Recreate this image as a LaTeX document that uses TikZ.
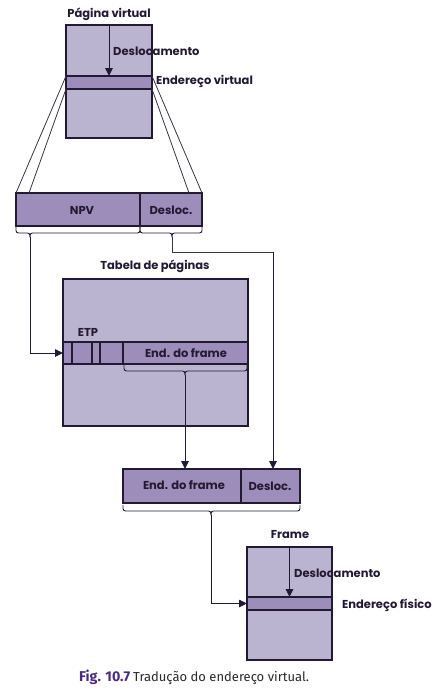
\documentclass[tikz,border=0pt]{standalone}
\usepackage{fontspec}
\setmainfont{Poppins}
\newfontfamily\capfont{Fira Sans}
\usetikzlibrary{arrows.meta}
\definecolor{boxfill}{HTML}{BBB4D1}
\definecolor{bandfill}{HTML}{9C8DBB}
\definecolor{edge}{HTML}{221A33}
\definecolor{thinline}{HTML}{3A3345}
\definecolor{capviolet}{HTML}{4A2B80}
\definecolor{captext}{HTML}{2A2A2A}
\tikzset{
  fillbox/.style={draw=edge, line width=1.6pt, fill=boxfill, anchor=north west, inner sep=0pt, outer sep=0pt},
  bandbox/.style={draw=edge, line width=1.6pt, fill=bandfill, anchor=north west, inner sep=0pt, outer sep=0pt},
  lbl/.style={font=\fontsize{11.5}{13}\selectfont\bfseries, text=edge, inner sep=0pt},
  arr/.style={draw=edge, line width=0.9pt, -{Triangle[length=8pt,width=7.5pt]}},
  conn/.style={draw=thinline, line width=0.8pt},
  brk/.style={draw=edge, line width=0.9pt, rounded corners=2.5pt},
}
\newcommand{\mybracket}[4]{% x1, x2, xt, y
  \draw[brk] (#1,#4) -- (#1,#4+6) -- (#3,#4+6) -- (#3,#4+10);
  \draw[brk] (#2,#4) -- (#2,#4+6) -- (#3,#4+6) -- (#3,#4+10);
}
\begin{document}
\begin{tikzpicture}[x=1pt,y=-1pt]
\useasboundingbox[fill=white] (0,0) rectangle (447,694);

% ---------- virtual page ----------
\node[fillbox, minimum width=86pt, minimum height=113pt] (vp) at (66,25) {};
\node[bandbox, minimum width=86pt, minimum height=13pt] (vband) at (66,76) {};
\draw[arr] (vp.north) -- (vband.north);
\node[lbl] (vptitle) at (109,14) {Página virtual};
\node[lbl, anchor=west] (vpdesl) at (113,51) {Deslocamento};
\node[lbl, anchor=west] (vpend) at (156,81) {Endereço virtual};

% ---------- virtual address ----------
\node[bandbox, minimum width=124pt, minimum height=33pt] (npv) at (16,193) {};
\node[bandbox, minimum width=62pt, minimum height=33pt] (vdesl) at (140,193) {};
\node[lbl] (npvtxt) at (82,210) {NPV};
\node[lbl] (vdesltxt) at (171,210) {Desloc.};

% funnel lines
\draw[conn] (vband.north west) -- (npv.north west);
\draw[conn] (vband.south west) -- ([xshift=13pt]npv.north west);
\draw[conn] (vband.north east) -- (vdesl.north east);
\draw[conn] (vband.south east) -- ([xshift=-13pt]vdesl.north east);

% brackets
\mybracket{16}{140}{30}{227}
\mybracket{140}{202}{172}{227}
\coordinate (t1) at (30,237);
\coordinate (t2) at (172,237);

% ---------- page table ----------
\node[lbl] (tabtitle) at (155,266) {Tabela de páginas};
\node[fillbox, minimum width=185pt, minimum height=147pt] (tab) at (63,279) {};
\node[bandbox, minimum width=185pt, minimum height=22pt] (etprow) at (63,342) {};
\foreach \xx in {72,92,100,123}{
  \draw[draw=edge, line width=1.3pt] (\xx,342) -- (\xx,364);
}
\node[lbl] (etp) at (88,332) {ETP};
\node[lbl] (tabframe) at (186,353) {End. do frame};
\mybracket{124}{247}{185}{365}
\coordinate (t3) at (185,375);

% ---------- physical address ----------
\node[bandbox, minimum width=118pt, minimum height=34pt] (pframe) at (123,469) {};
\node[bandbox, minimum width=59pt, minimum height=34pt] (pdesl) at (241,469) {};
\node[lbl] (pframetxt) at (184,485) {End. do frame};
\node[lbl] (pdesltxt) at (270,486) {Desloc.};
\mybracket{123}{300}{211}{505}
\coordinate (t4) at (211,515);

% ---------- frame ----------
\node[fillbox, minimum width=85pt, minimum height=113pt] (fr) at (247,547) {};
\node[bandbox, minimum width=85pt, minimum height=13pt] (fband) at (247,597) {};
\draw[arr] (fr.north) -- (fband.north);
\node[lbl] (frtitle) at (290,535) {Frame};
\node[lbl, anchor=west] (frdesl) at (294,573) {Deslocamento};
\node[lbl, anchor=west] (frend) at (342,605) {Endereço físico};

% ---------- connectors ----------
\draw[arr] (t1) |- (etprow.west);
\coordinate (r1) at (273,252);
\draw[conn] (t2) |- (r1);
\draw[arr] (r1) -- (r1 |- pdesl.north);
\draw[arr] (t3) -- (t3 |- pframe.north);
\draw[arr] (t4) |- (fband.west);

% ---------- caption ----------
\node[inner sep=0pt, font=\capfont\fontsize{13}{15}\selectfont, anchor=base west] (cap) at (79,681)
  {\textcolor{capviolet}{\fontsize{14.2}{15}\selectfont\bfseries Fig. 10.7}\hspace{3pt}\textcolor{captext}{Tradução do endereço virtual.}};
\end{tikzpicture}
\end{document}
